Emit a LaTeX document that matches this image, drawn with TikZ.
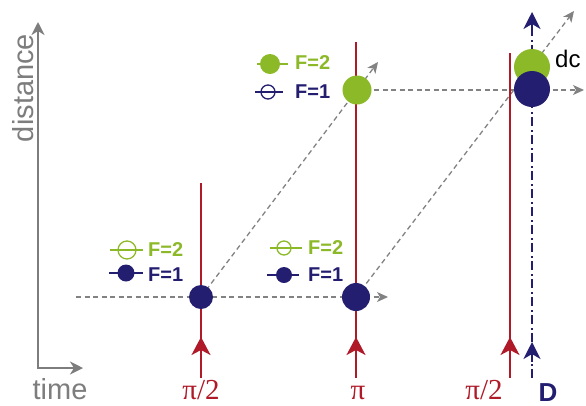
\documentclass[tikz,border=0pt]{standalone}
\usepackage{fontspec}
\setmainfont{Liberation Sans}
\newfontfamily\serifpi{Liberation Serif}
\usetikzlibrary{arrows.meta}
\definecolor{navy}{RGB}{36,30,112}
\definecolor{lgreen}{RGB}{140,185,40}
\definecolor{dred}{RGB}{175,25,40}
\definecolor{axgray}{RGB}{125,125,125}
\definecolor{dgray}{RGB}{130,130,130}
\begin{document}
\begin{tikzpicture}[x=1pt,y=-1pt,
  axis/.style={axgray, line width=2pt},
  traj/.style={dgray, line width=1.3pt, dash pattern=on 5pt off 3.5pt, -{Stealth[length=11pt,width=10pt,inset=3pt]}},
  pulse/.style={dred, line width=1.7pt},
  pulsetip/.style={dred, line width=1.7pt, -{Stealth[length=18pt,width=19pt,inset=5pt]}},
  det/.style={navy, line width=2pt, dash pattern=on 9pt off 3.5pt on 2pt off 3.5pt},
  dettip/.style={navy, line width=2pt, -{Stealth[length=17pt,width=17pt,inset=5pt]}},
  dot/.style={circle, inner sep=0pt, minimum size=#1},
  legline/.style={line width=1.4pt},
  legtext/.style={anchor=west, inner sep=0pt, font=\bfseries\fontsize{20}{20}\selectfont},
  pilabel/.style={anchor=base, inner sep=0pt, text=dred, font=\serifpi\fontsize{29}{29}\selectfont},
]
\useasboundingbox (0,0) rectangle (586,405);

% axes
\coordinate (ytop) at (38,22);
\coordinate (orig) at (38,368);
\coordinate (xend) at (83,368);
\draw[axis, {Stealth[length=13pt,width=13pt,inset=4pt]}-{Stealth[length=13pt,width=13pt,inset=4pt]}] (ytop) -- (orig) -- (xend);
\node[rotate=90, anchor=base, inner sep=0pt, text=axgray, font=\fontsize{29}{29}\selectfont] (dist) at (33,88) {distance};
\node[anchor=base, inner sep=0pt, text=axgray, font=\fontsize{29}{29}\selectfont] (time) at (60,399) {time};

% coordinates
\coordinate (a1c) at (201,297);
\coordinate (b1c) at (356,297);
\coordinate (b2c) at (357,90);
\coordinate (h0) at (76,297);
\coordinate (h1) at (388,297);
\coordinate (h2) at (584,90);
\coordinate (d1) at (378,62);
\coordinate (d2) at (574,11);

% trajectories
\draw[traj] (h0) -- (h1);
\draw[traj] (a1c) -- (d1);
\draw[traj] (b2c) -- (h2);
\draw[traj] (b1c) -- (d2);

% pulses
\coordinate (r1t) at (201,183); \coordinate (r1b) at (201,378); \coordinate (r1m) at (201,337);
\coordinate (r2t) at (356,42);  \coordinate (r2b) at (356,378); \coordinate (r2m) at (356,337);
\coordinate (r3t) at (510,53);  \coordinate (r3b) at (510,378); \coordinate (r3m) at (510,337);
\draw[pulse] (r1b) -- (r1t);
\draw[pulsetip] (r1b) -- (r1m);
\draw[pulse] (r2b) -- (r2t);
\draw[pulsetip] (r2b) -- (r2m);
\draw[pulse] (r3b) -- (r3t);
\draw[pulsetip] (r3b) -- (r3m);

% detection
\coordinate (db) at (532,378);
\coordinate (dt) at (532,30);
\coordinate (dlb) at (532,362);
\coordinate (dlt) at (532,342);
\coordinate (dub) at (532,33);
\coordinate (dut) at (532,12);
\draw[det] (db) -- (dt);
\draw[dettip] (dlb) -- (dlt);
\draw[dettip] (dub) -- (dut);

% atoms
\node[dot=24pt, fill=navy] (a1) at (a1c) {};
\node[dot=28pt, fill=navy] (b1) at (b1c) {};
\node[dot=29pt, fill=lgreen] (b2) at (b2c) {};
\node[dot=36pt, fill=lgreen] (c2) at (532,67) {};
\node[dot=36pt, fill=navy] (c1) at (532,89) {};

% labels
\node[pilabel] (p1) at (201,399) {π/2};
\node[pilabel] (p2) at (358,399) {π};
\node[pilabel] (p3) at (484,399) {π/2};
\node[anchor=base, inner sep=0pt, text=navy, font=\bfseries\fontsize{26}{26}\selectfont] (D) at (548,401) {D};
\node[anchor=base west, inner sep=0pt, font=\fontsize{24}{24}\selectfont] (dc) at (555,67) {dc};

% legend A
\draw[lgreen, legline] (110,250) -- (143,250);
\node[dot=18pt, draw=lgreen, line width=1.3pt] (lAg) at (127,250) {};
\draw[navy, legline] (109,273) -- (143,273);
\node[dot=17pt, fill=navy] (lAb) at (126,273) {};
\node[legtext, text=lgreen] (tA2) at (148,250) {F=2};
\node[legtext, text=navy] (tA1) at (148,275) {F=1};

% legend B
\draw[lgreen, legline] (270,248) -- (302,248);
\node[dot=14pt, draw=lgreen, line width=1.3pt] (lBg) at (284,248) {};
\draw[navy, legline] (267,275) -- (299,275);
\node[dot=16pt, fill=navy] (lBb) at (284,275) {};
\node[legtext, text=lgreen] (tB2) at (308,248) {F=2};
\node[legtext, text=navy] (tB1) at (308,275) {F=1};

% legend C
\draw[lgreen, legline] (257,64) -- (288,64);
\node[dot=20pt, fill=lgreen] (lCg) at (270,64) {};
\draw[navy, legline] (255,92) -- (283,92);
\node[dot=14pt, draw=navy, line width=1.3pt] (lCb) at (268,92) {};
\node[legtext, text=lgreen] (tC2) at (295,63) {F=2};
\node[legtext, text=navy] (tC1) at (295,92) {F=1};
\end{tikzpicture}
\end{document}
